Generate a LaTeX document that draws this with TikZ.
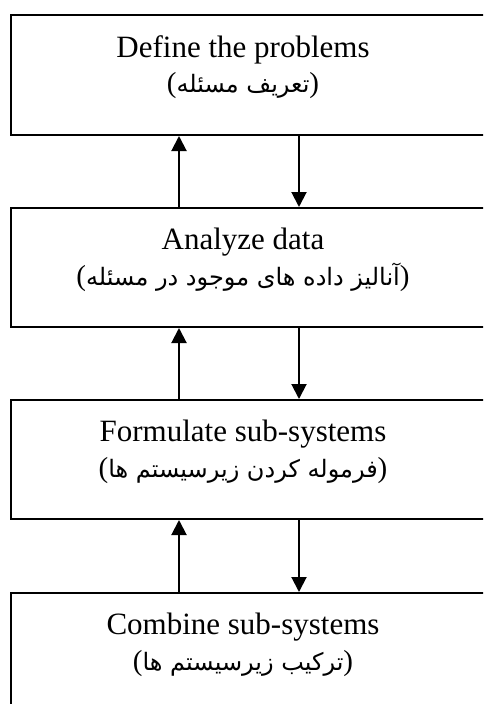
\documentclass[tikz,border=0pt]{standalone}
\usepackage{fontspec}
\setmainfont{Liberation Serif}
\newfontfamily\fa[Script=Arabic]{DejaVu Sans}
\TeXXeTstate=1
\usetikzlibrary{arrows.meta}
% Persian caption in brackets, written right to left
\newcommand\fatext[1]{({\fa\fontsize{24}{28}\selectfont\beginR #1\endR})}
\begin{document}
\begin{tikzpicture}[x=1pt,y=-1pt,
  stage/.style={draw, line width=2pt, minimum width=489pt, inner sep=0pt},
  entitle/.style={anchor=base, inner sep=0pt, font=\fontsize{31}{36}\selectfont},
  fatitle/.style={anchor=base, inner sep=0pt, font=\fontsize{29}{34}\selectfont},
  flow/.style={line width=2pt, -{Triangle[width=15pt,length=15pt]}}]
\useasboundingbox (0,0) rectangle (483,704);
\clip (0,0) rectangle (483,704);

% the four stages
\node[stage, minimum height=120pt] (s1) at (255.5,75) {};
\node[stage, minimum height=119pt] (s2) at (255.5,267.5) {};
\node[stage, minimum height=119pt] (s3) at (255.5,459.5) {};
\node[stage, minimum height=120pt] (s4) at (255.5,653) {};

% captions
\node[entitle] (e1) at (243,57) {Define the problems};
\node[fatitle] (f1) at (243,92) {\fatext{تعریف مسئله}};
\node[entitle] (e2) at (243,249) {Analyze data};
\node[fatitle] (f2) at (243,285) {\fatext{آنالیز داده های موجود در مسئله}};
\node[entitle] (e3) at (243,441) {Formulate sub-systems};
\node[fatitle] (f3) at (243,477) {\fatext{فرموله کردن زیرسیستم ها}};
\node[entitle] (e4) at (243,634) {Combine sub-systems};
\node[fatitle] (f4) at (243,670) {\fatext{ترکیب زیرسیستم ها}};

% feedback (up) and forward (down) links
\coordinate (up) at (179,0);
\coordinate (dn) at (299,0);
\draw[flow] (s2.north -| up) -- (s1.south -| up);
\draw[flow] (s1.south -| dn) -- (s2.north -| dn);
\draw[flow] (s3.north -| up) -- (s2.south -| up);
\draw[flow] (s2.south -| dn) -- (s3.north -| dn);
\draw[flow] (s4.north -| up) -- (s3.south -| up);
\draw[flow] (s3.south -| dn) -- (s4.north -| dn);
\end{tikzpicture}
\end{document}
